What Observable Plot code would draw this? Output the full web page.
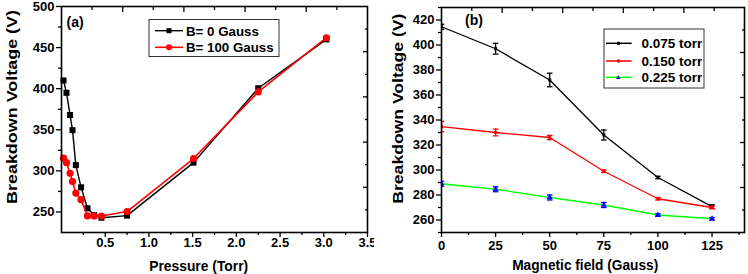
<!DOCTYPE html>
<html><head><meta charset="utf-8">
<script src="https://cdn.jsdelivr.net/npm/d3@7"></script>
<script src="https://cdn.jsdelivr.net/npm/@observablehq/plot@0.6"></script>
<style>
body{margin:0;background:#fff;}
#wrap{display:flex;width:748px;height:274px;overflow:hidden;}
svg{display:block;}
</style></head><body><div id="wrap"></div>
<script>
// ---------- Panel (a) data ----------
const pressure = [0.023, 0.057, 0.098, 0.126, 0.164, 0.224, 0.297, 0.373, 0.457, 0.75, 1.51, 2.25, 3.03];
const vB0      = [410, 395, 368, 349.5, 307, 280, 254.5, 246, 243, 245.5, 310, 400.5, 460];
const vB100    = [315.5, 310, 297, 287, 273, 265, 245.2, 245, 245, 250.5, 315, 396, 462];
const seriesA = ["B= 0 Gauss", "B= 100 Gauss"];
const xTicksA = [0.5, 1, 1.5, 2, 2.5, 3, 3.5];
const xMinorA = [0.25, 0.75, 1.25, 1.75, 2.25, 2.75, 3.25];
const yTicksA = [250, 300, 350, 400, 450, 500];
const yMinorA = [275, 325, 375, 425, 475];

// ---------- Panel (b) data ----------
const field = [0, 25, 50, 75, 100, 125];
const v075 = [414.6, 397, 372, 328, 294, 270.7];
const e075 = [2, 4.3, 5.4, 4, 1, 1.5];
const v150 = [334.7, 330, 326, 299, 277, 270];
const e150 = [4.2, 2.7, 1.7, 1, 1, 1];
const v225 = [289, 284.6, 278, 272, 264, 261];
const e225 = [2, 2, 2, 2, 1, 1];
const seriesB = ["0.075 torr", "0.150 torr", "0.225 torr"];
const xTicksB = [0, 25, 50, 75, 100, 125];
const xMinorB = [12.5, 37.5, 62.5, 87.5, 112.5, 137.5];
const yTicksB = [260, 280, 300, 320, 340, 360, 380, 400, 420];
const yMinorB = [250, 270, 290, 310, 330, 350, 370, 390, 410, 430];

const font = "'Liberation Sans', Arial, sans-serif";
const style = () => ({fontFamily: font, fontWeight: "bold", fontSize: "13px", background: "white", color: "black", overflow: "visible"});
const blank = () => "";

// ---------- Panel (a) ----------
const dA0 = pressure.map((p, i) => ({p, v: vB0[i]}));
const dA1 = pressure.map((p, i) => ({p, v: vB100[i]}));
const topA = d3.range(1, 10).map(k => k * 0.35);
const rightA = d3.range(1, 10).map(k => 225 + k * 27.5);

const chartA = Plot.plot({
  width: 374, height: 274,
  marginLeft: 61, marginRight: 7, marginTop: 6, marginBottom: 42,
  style: style(),
  x: {domain: [0, 3.5]},
  y: {domain: [225, 500]},
  marks: [
    Plot.axisX({ticks: xTicksA, tickSize: 5, tickPadding: 0, tickFormat: d3.format(".1f"), label: null, strokeWidth: 1.3}),
    Plot.axisX({ticks: xMinorA, tickSize: 3, tickFormat: blank, label: null, strokeWidth: 1.3}),
    Plot.axisY({ticks: yTicksA, tickSize: 5, tickPadding: 2, tickFormat: d3.format("d"), label: null, strokeWidth: 1.3}),
    Plot.axisY({ticks: yMinorA, tickSize: 3, tickFormat: blank, label: null, strokeWidth: 1.3}),
    Plot.axisX({anchor: "top", ticks: topA.filter((d, i) => i % 2 === 1), tickSize: -5, tickFormat: blank, label: null, strokeWidth: 1.3}),
    Plot.axisX({anchor: "top", ticks: topA.filter((d, i) => i % 2 === 0), tickSize: -3, tickFormat: blank, label: null, strokeWidth: 1.3}),
    Plot.axisY({anchor: "right", ticks: rightA.filter((d, i) => i % 2 === 1), tickSize: -5, tickFormat: blank, label: null, strokeWidth: 1.3}),
    Plot.axisY({anchor: "right", ticks: rightA.filter((d, i) => i % 2 === 0), tickSize: -3, tickFormat: blank, label: null, strokeWidth: 1.3}),
    Plot.line(dA0, {x: "p", y: "v", stroke: "black", strokeWidth: 1.4}),
    Plot.dot(dA0, {x: "p", y: "v", symbol: "square", r: 3.4, fill: "black"}),
    Plot.line(dA1, {x: "p", y: "v", stroke: "#ff0000", strokeWidth: 1.6}),
    Plot.dot(dA1, {x: "p", y: "v", symbol: "circle", r: 3.6, fill: "#ff0000"}),
    Plot.frame({stroke: "black", strokeWidth: 1.6})
  ]
});

// ---------- Panel (b) ----------
const mk = (v, e) => field.map((f, i) => ({f, v: v[i], e: e[i]}));
const dB = [mk(v075, e075), mk(v150, e150), mk(v225, e225)];
const lineCol = ["black", "#ff0000", "#00ff00"];
const barCol = ["black", "#ff0000", "#0000ff"];
const markSym = ["square", "square", "triangle"];
const capSymbol = {draw(ctx, size) { const r = Math.sqrt(size / Math.PI); ctx.moveTo(-r, 0); ctx.lineTo(r, 0); }};
const topB = d3.range(1, 10).map(k => k * 14);
const rightB = d3.range(1, 10).map(k => 250 + k * 18);

const marksB = [
  Plot.axisX({ticks: xTicksB, tickSize: 5, tickPadding: 3, tickFormat: d3.format("d"), label: null, strokeWidth: 1.3}),
  Plot.axisX({ticks: xMinorB, tickSize: 3, tickFormat: blank, label: null, strokeWidth: 1.3}),
  Plot.axisY({ticks: yTicksB, tickSize: 5, tickPadding: 2, tickFormat: d3.format("d"), label: null, strokeWidth: 1.3}),
  Plot.axisY({ticks: yMinorB, tickSize: 3, tickFormat: blank, label: null, strokeWidth: 1.3}),
  Plot.axisX({anchor: "top", ticks: topB.filter((d, i) => i % 2 === 1), tickSize: -5, tickFormat: blank, label: null, strokeWidth: 1.3}),
  Plot.axisX({anchor: "top", ticks: topB.filter((d, i) => i % 2 === 0), tickSize: -3, tickFormat: blank, label: null, strokeWidth: 1.3}),
  Plot.axisY({anchor: "right", ticks: rightB.filter((d, i) => i % 2 === 1), tickSize: -5, tickFormat: blank, label: null, strokeWidth: 1.3}),
  Plot.axisY({anchor: "right", ticks: rightB.filter((d, i) => i % 2 === 0), tickSize: -3, tickFormat: blank, label: null, strokeWidth: 1.3})
];
dB.forEach((d, k) => {
  marksB.push(Plot.line(d, {x: "f", y: "v", stroke: lineCol[k], strokeWidth: 1.3, clip: true}));
});
dB.forEach((d, k) => {
  marksB.push(
    Plot.ruleX(d, {x: "f", y1: r => r.v - r.e, y2: r => r.v + r.e, stroke: barCol[k], strokeWidth: 1.3, clip: true}),
    Plot.dot(d, {x: "f", y: r => r.v - r.e, symbol: capSymbol, r: 2.8, stroke: barCol[k], fill: "none", strokeWidth: 1.3, clip: true}),
    Plot.dot(d, {x: "f", y: r => r.v + r.e, symbol: capSymbol, r: 2.8, stroke: barCol[k], fill: "none", strokeWidth: 1.3, clip: true}),
    Plot.dot(d, {x: "f", y: "v", symbol: markSym[k], r: k === 2 ? 2.2 : 1.7, fill: barCol[k], clip: true})
  );
});
marksB.push(Plot.frame({stroke: "black", strokeWidth: 1.6}));

const chartB = Plot.plot({
  width: 374, height: 274,
  marginLeft: 67, marginRight: 4, marginTop: 7, marginBottom: 42,
  style: style(),
  x: {domain: [0, 140]},
  y: {domain: [250, 430]},
  marks: marksB
});

// ---------- Titles, panel tags and legends ----------
function addText(svg, txt, x, y, size, opts = {}) {
  const t = svg.append("text").attr("x", x).attr("y", y)
    .attr("font-size", size).attr("font-weight", "bold").attr("font-family", font)
    .attr("fill", "black").attr("text-anchor", opts.anchor || "start").text(txt);
  if (opts.baseline) t.attr("dominant-baseline", opts.baseline);
  if (opts.len) t.attr("textLength", opts.len).attr("lengthAdjust", "spacingAndGlyphs");
  if (opts.transform) t.attr("transform", opts.transform);
  return t;
}
const sA = d3.select(chartA), sB = d3.select(chartB);

addText(sA, "Pressure (Torr)", 198.7, 270.5, 15, {anchor: "middle", len: 99});
addText(sA, "Breakdown Voltage (V)", 0, 0, 15, {anchor: "middle", len: 194, transform: "translate(16.7,107) rotate(-90)"});
addText(sA, "(a)", 66.5, 21.7, 14, {baseline: "central"});

addText(sB, "Magnetic field (Gauss)", 211.2, 270, 15, {anchor: "middle", len: 146});
addText(sB, "Breakdown Voltage (V)", 0, 0, 15, {anchor: "middle", len: 190, transform: "translate(29,108.7) rotate(-90)"});
addText(sB, "(b)", 91, 20, 14, {baseline: "central"});

// legend (a)
const gA = sA.append("g");
gA.append("rect").attr("x", 149).attr("y", 19.5).attr("width", 130).attr("height", 37)
  .attr("fill", "white").attr("stroke", "#333").attr("stroke-width", 1);
const legA = [{c: "black", sym: "square", ty: 30.7}, {c: "#ff0000", sym: "circle", ty: 47.3}];
legA.forEach((l, i) => {
  gA.append("line").attr("x1", 155).attr("x2", 183).attr("y1", l.ty).attr("y2", l.ty).attr("stroke", l.c).attr("stroke-width", i ? 1.6 : 1.4);
  if (l.sym === "square") gA.append("rect").attr("x", 166.5).attr("y", l.ty - 2.5).attr("width", 5).attr("height", 5).attr("fill", l.c);
  else gA.append("circle").attr("cx", 169).attr("cy", l.ty).attr("r", 3).attr("fill", l.c);
  addText(gA, seriesA[i], 186, l.ty + 0.5, 13.3, {baseline: "central"});
});

// legend (b)
const gB = sB.append("g");
gB.append("rect").attr("x", 230).attr("y", 29).attr("width", 100).attr("height", 59)
  .attr("fill", "white").attr("stroke", "#333").attr("stroke-width", 1);
const legRows = [43.3, 61, 77.3];
legRows.forEach((ty, i) => {
  gB.append("line").attr("x1", 232).attr("x2", 257.7).attr("y1", ty).attr("y2", ty).attr("stroke", lineCol[i]).attr("stroke-width", 1.5);
  if (i < 2) gB.append("rect").attr("x", 243).attr("y", ty - 1.5).attr("width", 3).attr("height", 3).attr("fill", barCol[i]);
  else gB.append("path").attr("d", `M244.3,${ty - 2.2}L246.6,${ty + 1.6}L242,${ty + 1.6}Z`).attr("fill", barCol[i]);
  addText(gB, seriesB[i], 267.5, ty + 0.5, 13.5, {baseline: "central"});
});

const wrap = document.getElementById("wrap");
wrap.appendChild(chartA);
wrap.appendChild(chartB);
</script></body></html>
